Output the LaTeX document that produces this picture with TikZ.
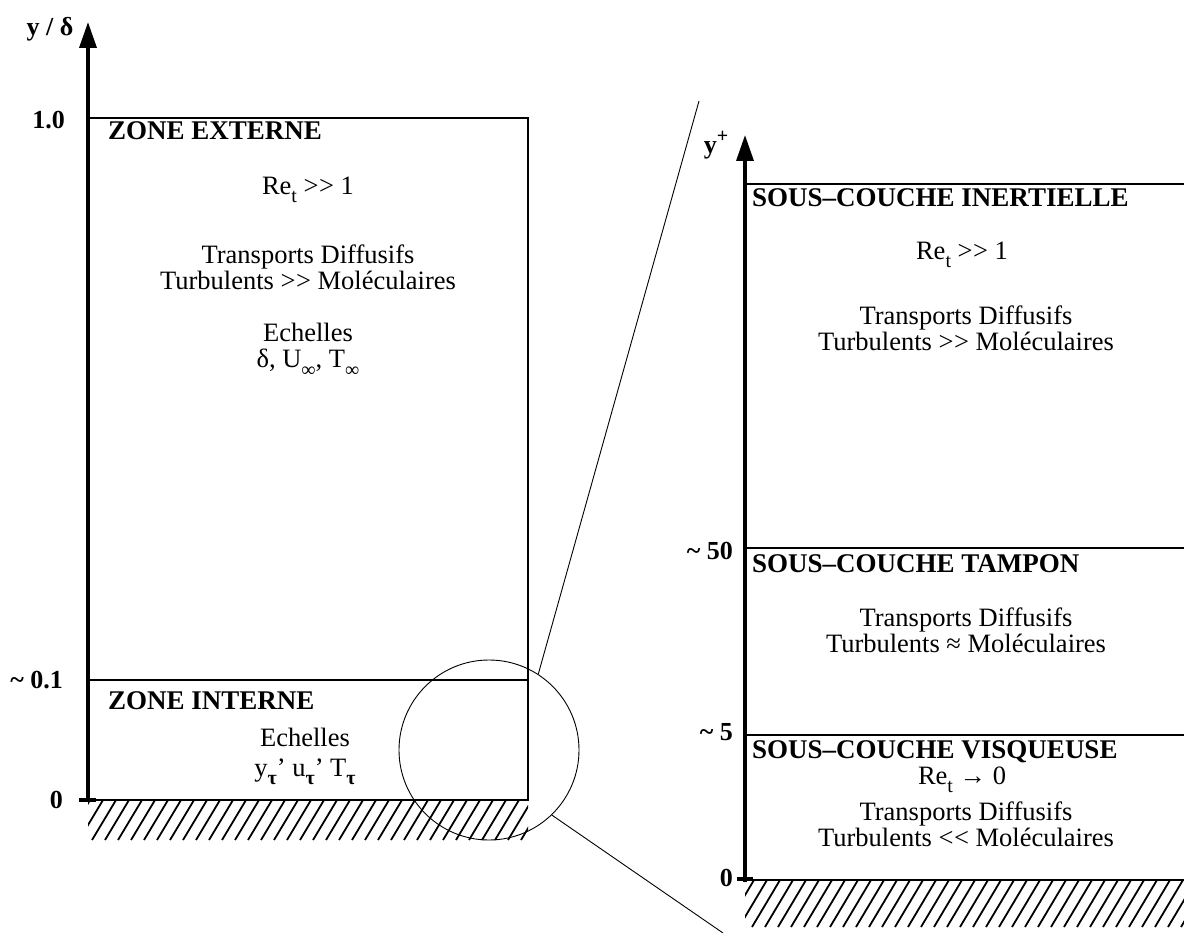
\documentclass[tikz,border=0pt]{standalone}
\usepackage{fontspec}
\setmainfont{Liberation Serif}
\usetikzlibrary{arrows.meta}
% lowered index and raised exponent, set a little smaller than the text
\newcommand\lowidx[1]{\raisebox{-0.32em}{\fontsize{20}{20}\selectfont #1}}
\newcommand\highidx[1]{\raisebox{0.42em}{\fontsize{20}{20}\selectfont #1}}
% doubled comparison signs, kept apart so they are not merged into guillemets
\newcommand\muchgt{>\kern0.5pt>}
\newcommand\muchlt{<\kern0.5pt<}
\begin{document}
\begin{tikzpicture}[x=1pt,y=-1pt,
  axisline/.style={line width=3.5pt,-{Triangle[length=26pt,width=17pt]}},
  boxline/.style={line width=1.8pt},
  levelline/.style={line width=2.2pt},
  tickmark/.style={line width=4pt},
  hatchline/.style={line width=1.8pt},
  leader/.style={line width=0.9pt},
  zoomring/.style={circle,draw,line width=0.9pt,minimum size=180pt,inner sep=0pt},
  body/.style={font=\fontsize{26.5}{26}\selectfont,align=center,inner sep=0pt},
  heading/.style={font=\fontsize{27}{27}\selectfont\bfseries,anchor=base west,inner sep=0pt},
  axlabel/.style={font=\fontsize{26}{26}\selectfont\bfseries,anchor=east,inner sep=0pt}]
\useasboundingbox (0,0) rectangle (1184,933);

% ---------- left: whole boundary layer ----------
\begin{scope}
  \clip (88,801) rectangle (528,840);
  \foreach \x in {40,53,...,540} \draw[hatchline] (\x,840) -- ++(24,-40);
\end{scope}
\draw[boxline] (88,118) -- (528,118) -- (528,800) -- (88,800);
\draw[levelline] (88,680) -- (528,680);
\draw[axisline] (88,802) -- (88,22);
\draw[tickmark] (79,800) -- (96,800);

\node[font=\fontsize{26}{26}\selectfont\bfseries,inner sep=0pt] (ylab) at (50,29) {y / δ};
\node[axlabel] (l10) at (65,120) {1.0};
\node[axlabel] (l01) at (63,680) {\textasciitilde{} 0.1};
\node[axlabel] (l00) at (63,800) {0};

\node[heading] (zext) at (108,140) {ZONE EXTERNE};
\node[body] (reL) at (308,190) {Re\lowidx{t} \muchgt{} 1};
\node[body] (trL) at (308,267) {Transports Diffusifs\\Turbulents \muchgt{} Moléculaires};
\node[body] (scL) at (308,350) {Echelles\\δ, U\lowidx{∞}, T\lowidx{∞}};
\node[heading] (zint) at (108,709) {ZONE INTERNE};
\node[body] (ech) at (305,737) {Echelles};
\node[body] (sci) at (305,772) {y\lowidx{\textbf{τ}}’ u\lowidx{\textbf{τ}}’ T\lowidx{\textbf{τ}}};

% ---------- magnifier ----------
\node[zoomring] (ring) at (489,750) {};
\coordinate (zt) at (699,101);
\coordinate (zb) at (723,933);
\draw[leader] (ring.57.5) -- (zt);
\draw[leader] (ring.-46) -- (zb);

% ---------- right: inner layer in wall units ----------
\begin{scope}
  \clip (745,881) rectangle (1184,927);
  \foreach \x in {700,713,...,1200} \draw[hatchline] (\x,927) -- ++(28,-47);
\end{scope}
\draw[boxline] (745,184) -- (1184,184);
\draw[levelline] (745,548) -- (1184,548);
\draw[levelline] (745,735) -- (1184,735);
\draw[boxline] (745,880) -- (1184,880);
\draw[axisline] (745,882) -- (745,135);
\draw[tickmark] (737,879) -- (753,879);

\node[font=\fontsize{26}{26}\selectfont\bfseries,inner sep=0pt] (yplus) at (716,145) {y\highidx{+}};
\node[axlabel] (r50) at (733,551) {\textasciitilde{} 50};
\node[axlabel] (r05) at (733,732) {\textasciitilde{} 5};
\node[axlabel] (r00) at (733,878) {0};

\node[heading] (inert) at (752,207) {SOUS–COUCHE INERTIELLE};
\node[body] (reR) at (962,255) {Re\lowidx{t} \muchgt{} 1};
\node[body] (trR) at (966,328) {Transports Diffusifs\\Turbulents \muchgt{} Moléculaires};
\node[heading] (tamp) at (752,572) {SOUS–COUCHE TAMPON};
\node[body] (trT) at (966,630) {Transports Diffusifs\\Turbulents ≈ Moléculaires};
\node[heading] (visq) at (752,758) {SOUS–COUCHE VISQUEUSE};
\node[body] (reV) at (962,780) {Re\lowidx{t} → 0};
\node[body] (trV) at (966,824) {Transports Diffusifs\\Turbulents \muchlt{} Moléculaires};
\end{tikzpicture}
\end{document}
